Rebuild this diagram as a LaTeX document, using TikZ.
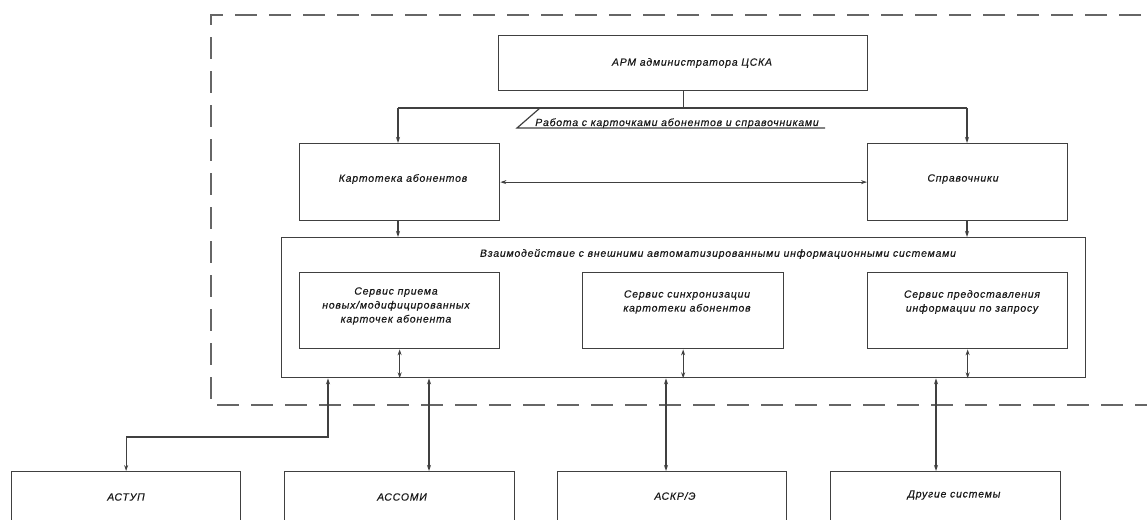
\documentclass[tikz,border=0pt]{standalone}
\usepackage{fontspec}
\newfontfamily\gost[LetterSpace=7.5,FakeBold=0.4]{Liberation Sans}
\usetikzlibrary{arrows.meta,calc}
\begin{document}
\begin{tikzpicture}[x=1bp,y=1bp,
  box/.style={draw=black!75, line width=1.3bp, inner sep=0pt, anchor=north west},
  txt/.style={font=\gost\itshape\fontsize{10.5}{14}\selectfont, text=black!90, inner sep=0pt, align=center},
  conn/.style={draw=black!75, line width=1.2bp},
  arr/.style={conn, -{Stealth[length=6bp,width=4bp]}},
  darr/.style={conn, {Stealth[length=6bp,width=4bp]}-{Stealth[length=6bp,width=4bp]}},
  framestyle/.style={draw=black!60, line width=1.5bp, dash pattern=on 22bp off 12bp}]
\useasboundingbox (0,0) rectangle (1147,-520);
\clip (0,0) rectangle (1147,-520);
% dashed frame
\draw[framestyle] (1175,-15) -- (211,-15) -- (211,-405) -- (1175,-405);
% boxes
\node[box, minimum width=369bp, minimum height=55bp] (apm) at (498,-35) {};
\node[box, minimum width=200bp, minimum height=77bp] (kart) at (299,-143) {};
\node[box, minimum width=200bp, minimum height=77bp] (spr) at (867,-143) {};
\node[box, minimum width=804bp, minimum height=140bp] (ext) at (281,-237) {};
\node[box, minimum width=200bp, minimum height=76bp] (s1) at (299,-272) {};
\node[box, minimum width=201bp, minimum height=76bp] (s2) at (582,-272) {};
\node[box, minimum width=200bp, minimum height=76bp] (s3) at (867,-272) {};
\node[box, minimum width=229bp, minimum height=90bp] (b1) at (11,-471) {};
\node[box, minimum width=230bp, minimum height=90bp] (b2) at (284,-471) {};
\node[box, minimum width=229bp, minimum height=90bp] (b3) at (557,-471) {};
\node[box, minimum width=230bp, minimum height=90bp] (b4) at (830,-471) {};
% texts
\node[txt] (tapm) at (692,-63) {АРМ администратора ЦСКА};
\node[txt] (tkart) at (403,-179) {Картотека абонентов};
\node[txt] (tspr) at (963,-179) {Справочники};
\node[txt, anchor=base] (tlab) at (677,-126) {Работа с карточками абонентов и справочниками};
\node[txt] (text) at (718,-254) {Взаимодействие с внешними автоматизированными информационными системами};
\node[txt] (ts1) at (396,-306) {Сервис приема\\новых/модифицированных\\карточек абонента};
\node[txt] (ts2) at (687,-302) {Сервис синхронизации\\картотеки абонентов};
\node[txt] (ts3) at (972,-302) {Сервис предоставления\\информации по запросу};
\node[txt] (tb1) at (126,-497) {АСТУП};
\node[txt] (tb2) at (402,-497) {АССОМИ};
\node[txt] (tb3) at (675,-496) {АСКР/Э};
\node[txt] (tb4) at (954,-495) {Другие системы};
% connectors top
\coordinate (brL) at (398,-108);
\coordinate (brR) at (967,-108);
\coordinate (slT) at (540,-108);
\coordinate (slB) at (517,-128);
\coordinate (ulE) at (825,-128);
\draw[conn] (apm.south) -- (apm.south |- brL);
\draw[conn] (brL) -- (brR);
\draw[conn] (slT) -- (slB) -- (ulE);
\draw[arr] (brL) -- (brL |- kart.north);
\draw[arr] (brR) -- (brR |- spr.north);
\draw[darr] (kart.east) -- (spr.west);
\draw[arr] (kart.south -| brL) -- (ext.north -| brL);
\draw[arr] (spr.south -| brR) -- (ext.north -| brR);
% services
\draw[darr] (s1.south) -- (s1.south |- ext.south);
\draw[darr] (s2.south) -- (s2.south |- ext.south);
\draw[darr] (s3.south) -- (s3.south |- ext.south);
% external systems
\coordinate (c1) at (328,-437);
\coordinate (c2) at (429,-437);
\coordinate (c3) at (666,-437);
\coordinate (c4) at (936,-437);
\draw[darr] (ext.south -| c1) -- (c1) -- (c1 -| b1.north) -- (b1.north);
\draw[darr] (ext.south -| c2) -- (b2.north -| c2);
\draw[darr] (ext.south -| c3) -- (b3.north -| c3);
\draw[darr] (ext.south -| c4) -- (b4.north -| c4);
\end{tikzpicture}
\end{document}
